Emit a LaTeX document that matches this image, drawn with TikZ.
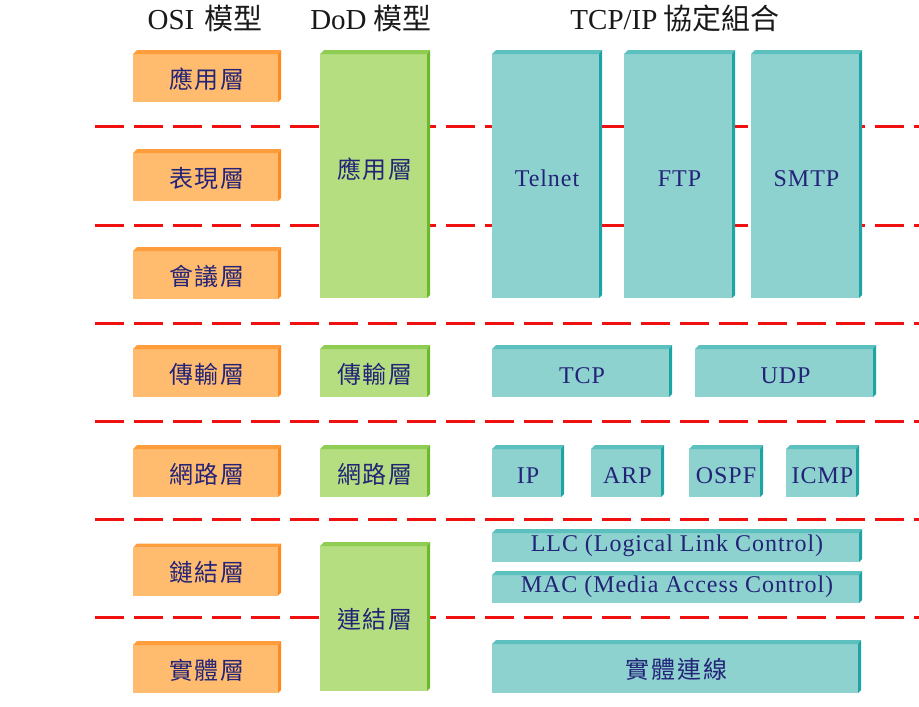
\documentclass[tikz,border=0pt]{standalone}
\usepackage{fontspec}
\setmainfont{Liberation Serif}
\newfontfamily\cjk{Noto Sans CJK TC}
\newfontfamily\cjkbox{Noto Sans CJK TC}[LetterSpace=8]
\newfontfamily\latbox{Liberation Serif}[LetterSpace=4]
\usetikzlibrary{calc}
\definecolor{txt}{RGB}{35,35,120}
\definecolor{hdr}{RGB}{25,25,25}
\definecolor{ofill}{RGB}{255,187,110}
\definecolor{otop}{RGB}{255,156,60}
\definecolor{oright}{RGB}{255,138,28}
\definecolor{gfill}{RGB}{180,222,128}
\definecolor{gtop}{RGB}{143,204,82}
\definecolor{gright}{RGB}{108,186,44}
\definecolor{tfill}{RGB}{142,210,208}
\definecolor{ttop}{RGB}{91,192,190}
\definecolor{tright}{RGB}{31,164,166}
\definecolor{sep}{RGB}{240,16,16}
\tikzset{
  bevel/.style n args={3}{fill=white, draw=none, inner sep=0pt, outer sep=0pt,
    text=txt, font=\latbox\fontsize{24pt}{28pt}\selectfont,
    path picture={
      \fill[#1] let \p1=(path picture bounding box.north west), \p2=(path picture bounding box.south east) in
        (\x1,\y1-4pt) -- (\x2-3pt,\y1-4pt) -- (\x2-3pt,\y2) -- (\x1,\y2) -- cycle;
      \fill[#2] let \p1=(path picture bounding box.north west), \p2=(path picture bounding box.south east) in
        (\x1,\y1-4pt) -- (\x1+4pt,\y1) -- (\x2,\y1) -- (\x2-3pt,\y1-4pt) -- cycle;
      \fill[#3] let \p1=(path picture bounding box.north west), \p2=(path picture bounding box.south east) in
        (\x2-3pt,\y1-4pt) -- (\x2,\y1) -- (\x2,\y2+3pt) -- (\x2-3pt,\y2) -- cycle;
    }},
  low/.style={text height=24pt, text depth=0pt},
  high/.style={text height=16pt, text depth=8pt},
  obox/.style={bevel={ofill}{otop}{oright}, low, minimum width=148pt, minimum height=52pt},
  gbox/.style={bevel={gfill}{gtop}{gright}, low, minimum width=110pt},
  tbox/.style={bevel={tfill}{ttop}{tright}},
  header/.style={text=hdr, font=\fontsize{29pt}{32pt}\selectfont, inner sep=0pt},
  sepline/.style={draw=sep, line width=3pt, dash pattern=on 29pt off 10pt},
}
\begin{document}
\begin{tikzpicture}[x=1pt,y=-1pt]
\useasboundingbox (0,0) rectangle (919,707);

% separators (behind boxes)
\foreach \yy [count=\i] in {126,225,323,421,519,617}{
  \coordinate (s\i a) at (95,\yy);
  \coordinate (s\i b) at (919,\yy);
  \draw[sepline] (s\i a) -- (s\i b);
}

% headers
\node[header] (hosi) at (205,18) {OSI\hspace{10pt}{\cjk 模型}};
\node[header] (hdod) at (371,18) {DoD\hspace{7pt}{\cjk 模型}};
\node[header] (htcp) at (675,18) {TCP/IP\hspace{6pt}{\cjk 協定組合}};

% OSI column
\node[obox] (o1) at (207,76)  {\cjkbox 應用層};
\node[obox] (o2) at (207,175) {\cjkbox 表現層};
\node[obox] (o3) at (207,273) {\cjkbox 會議層};
\node[obox] (o4) at (207,371) {\cjkbox 傳輸層};
\node[obox] (o5) at (207,471) {\cjkbox 網路層};
\node[obox] (o6) at (207,569.5) {\cjkbox 鏈結層};
\node[obox] (o7) at (207,667) {\cjkbox 實體層};

% DoD column
\node[gbox, high, minimum height=248pt] (d1) at (375,174) {\cjkbox 應用層};
\node[gbox, minimum height=52pt]  (d2) at (375,371) {\cjkbox 傳輸層};
\node[gbox, minimum height=52pt]  (d3) at (375,471) {\cjkbox 網路層};
\node[gbox, minimum height=149pt] (d4) at (375,616.5) {\cjkbox 連結層};

% TCP/IP column
\node[tbox, low, minimum width=110pt, minimum height=248pt] (telnet) at (547,174) {Telnet};
\node[tbox, low, minimum width=111pt, minimum height=248pt] (ftp) at (679.5,174) {FTP};
\node[tbox, low, minimum width=111pt, minimum height=248pt] (smtp) at (806.5,174) {SMTP};

\node[tbox, low, minimum width=180pt, minimum height=52pt] (tcp) at (582,371) {TCP};
\node[tbox, low, minimum width=181pt, minimum height=52pt] (udp) at (785.5,371) {UDP};

\node[tbox, low, minimum width=72pt, minimum height=52pt] (ip) at (528,471) {IP};
\node[tbox, low, minimum width=73pt, minimum height=52pt] (arp) at (627.5,471) {ARP};
\node[tbox, low, minimum width=74pt, minimum height=52pt] (ospf) at (726,471) {OSPF};
\node[tbox, low, minimum width=73pt, minimum height=52pt] (icmp) at (822.5,471) {ICMP};

\node[tbox, minimum width=370pt, minimum height=33pt] (llc) at (677,545.5) {LLC (Logical Link Control)};
\node[tbox, minimum width=370pt, minimum height=32pt] (mac) at (677,587) {MAC (Media Access Control)};
\node[tbox, low, minimum width=369pt, minimum height=53pt] (phy) at (676.5,666.5) {\cjkbox 實體連線};
\end{tikzpicture}
\end{document}
